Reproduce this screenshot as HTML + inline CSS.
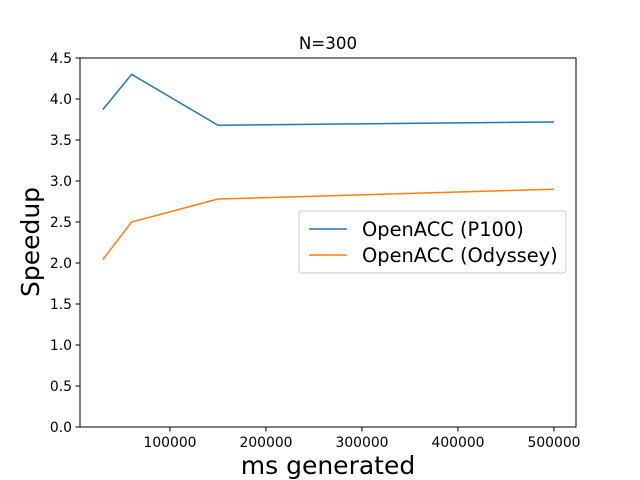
<!DOCTYPE html>
<html><head><meta charset="utf-8"><style>body{margin:0;background:#fff}svg{display:block;font-family:"DejaVu Sans","Liberation Sans",sans-serif}</style></head>
<body>
<svg id="chart" width="640" height="480" xmlns="http://www.w3.org/2000/svg">
<rect x="0" y="0" width="640" height="480" fill="#fff"/>
<text x="328" y="49" font-size="16.7" text-anchor="middle">N=300</text>
<g id="ticks"></g>
<g id="lines"></g>
<rect x="80" y="58" width="496" height="369" fill="none" stroke="#000" stroke-width="1"/>
<text x="328" y="474" font-size="25" text-anchor="middle">ms generated</text>
<text transform="translate(39,242) rotate(-90)" font-size="25" text-anchor="middle">Speedup</text>
<g>
<rect x="299" y="211" width="267" height="62" rx="3" fill="#fff" fill-opacity="0.8" stroke="#ccc"/>
<g>
<line x1="309" y1="229" x2="347" y2="229" stroke="#1f77b4" stroke-width="1.5"/>
<text x="362" y="236" font-size="19.4">OpenACC (P100)</text></g>
<g>
<line x1="309" y1="255" x2="347" y2="255" stroke="#ff7f0e" stroke-width="1.5"/>
<text x="362" y="262" font-size="19.4">OpenACC (Odyssey)</text></g>
</g>
</svg>
<script>
const xValues=[30000,60000,150000,500000];
const p100Values=[3.87,4.30,3.68,3.72];
const odysseyValues=[2.04,2.50,2.78,2.90];
const xTicks=[100000,200000,300000,400000,500000];
const yTicks=[0,0.5,1,1.5,2,2.5,3,3.5,4,4.5];
const NS="http://www.w3.org/2000/svg";
function sx(v){return 74+v*0.00096;}
function sy(v){return 427-v*82;}
const tg=document.getElementById('ticks');
function mk(t,a,p){const e=document.createElementNS(NS,t);for(const k in a)e.setAttribute(k,a[k]);p.appendChild(e);return e;}
xTicks.forEach(v=>{const x=sx(v);
const l=mk('line',{x1:x,y1:427,x2:x,y2:431.5,stroke:'#000'},tg);


const t=mk('text',{x:x,y:447,'font-size':13.9,'text-anchor':'middle'},tg);t.textContent=v;

});
yTicks.forEach(v=>{const y=sy(v);
const l=mk('line',{x1:75.5,y1:y,x2:80,y2:y,stroke:'#000'},tg);


const t=mk('text',{x:72,y:y+5,'font-size':13.9,'text-anchor':'end'},tg);t.textContent=v.toFixed(1);

});
const lg=document.getElementById('lines');
[[p100Values,'#1f77b4','series-p100'],[odysseyValues,'#ff7f0e','series-odyssey']].forEach(([vals,c,n])=>{
const p=mk('polyline',{points:xValues.map((x,i)=>sx(x)+','+sy(vals[i])).join(' '),fill:'none',stroke:c,'stroke-width':1.5},lg);

});
</script>
</body></html>
